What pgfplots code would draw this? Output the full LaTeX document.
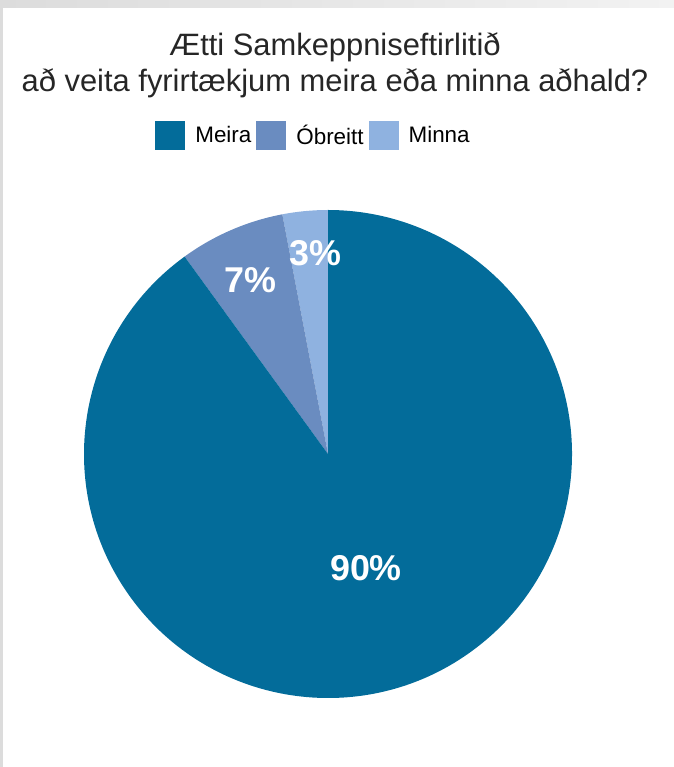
\documentclass[border=0pt]{standalone}
\usepackage{pgfplots}
\pgfplotsset{compat=1.18}
\usepackage{pgfplotstable}
\usepackage{fontspec}
\setmainfont{Liberation Sans}
\definecolor{cMeira}{RGB}{3,108,154}
\definecolor{cObreitt}{RGB}{106,140,192}
\definecolor{cMinna}{RGB}{143,178,224}
\definecolor{frameA}{RGB}{220,220,220}
\definecolor{frameB}{RGB}{242,242,242}

\pgfplotstableread{
label value
Meira 90
Obreitt 7
Minna 3
}\piedata

\begin{document}%
\begin{tikzpicture}
\pgfplotstablegetelem{0}{value}\of\piedata \let\vMeira\pgfplotsretval
\pgfplotstablegetelem{1}{value}\of\piedata \let\vObr\pgfplotsretval
\pgfplotstablegetelem{2}{value}\of\piedata \let\vMinna\pgfplotsretval
\pgfmathsetmacro\aMinnaEnd{90+3.6*\vMinna}
\pgfmathsetmacro\aObrEnd{\aMinnaEnd+3.6*\vObr}
\pgfmathsetmacro\aMeiraEnd{\aObrEnd+3.6*\vMeira}
\begin{axis}[
  name=ax,
  scale only axis, width=674bp, height=767bp,
  xmin=0, xmax=674, ymin=0, ymax=767,
  hide axis, clip=false,
  legend columns=3,
  legend style={at={(axis cs:313.5,631.5)}, anchor=center, draw=none, fill=none,
    font=\fontsize{22.5}{22.5}\selectfont, inner sep=0pt,
    /tikz/every even column/.style={column sep=3bp},
    /tikz/every odd column/.style={column sep=8bp}},
  legend image code/.code={\path[fill, draw=none] (0bp,-14.5bp) rectangle (30bp,14.5bp);},
]
% frame
\path[left color=frameA, right color=frameB] (axis cs:0,759) rectangle (axis cs:674,767);
\fill[frameA] (axis cs:0,0) rectangle (axis cs:3,767);

\addlegendimage{fill=cMeira}
\addlegendentry{Meira}
\addlegendimage{fill=cObreitt}
\addlegendentry{Óbreitt}
\addlegendimage{fill=cMinna}
\addlegendentry{Minna}

% pie
\fill[cMinna] (axis cs:328,313) -- ++(90:244bp) arc[start angle=90, end angle=\aMinnaEnd, radius=244bp] -- cycle;
\fill[cObreitt] (axis cs:328,313) -- ++(\aMinnaEnd:244bp) arc[start angle=\aMinnaEnd, end angle=\aObrEnd, radius=244bp] -- cycle;
\fill[cMeira] (axis cs:328,313) -- ++(\aObrEnd:244bp) arc[start angle=\aObrEnd, end angle=\aMeiraEnd, radius=244bp] -- cycle;

\node[text=white, font=\bfseries\fontsize{36}{36}\selectfont] at (axis cs:366,199) {90\%};
\node[text=white, font=\bfseries\fontsize{36}{36}\selectfont] at (axis cs:250,487) {7\%};
\node[text=white, font=\bfseries\fontsize{36}{36}\selectfont] at (axis cs:315,514) {3\%};

\node[align=center, font=\fontsize{31}{36}\selectfont, text=black!85] at (axis cs:335,702) {Ætti Samkeppniseftirlitið\\að veita fyrirtækjum meira eða minna aðhald?};
\end{axis}
\pgfresetboundingbox
\path (ax.south west) rectangle (ax.north east);
\end{tikzpicture}%
\end{document}
